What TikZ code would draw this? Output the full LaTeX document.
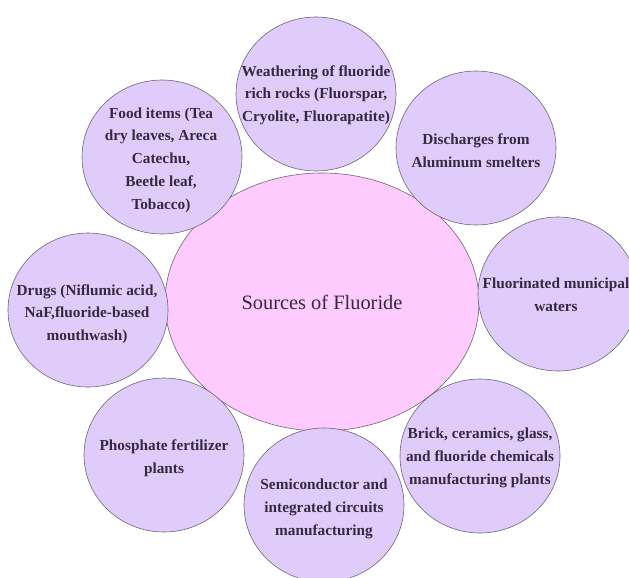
\documentclass[tikz,border=0pt]{standalone}
\usepackage{fontspec}
\setmainfont{Liberation Serif}
\usetikzlibrary{shapes.geometric}
\definecolor{satfill}{HTML}{E0CCFA}
\definecolor{hubfill}{HTML}{FDCBFD}
\definecolor{edgecol}{HTML}{6F6373}
\definecolor{txtcol}{HTML}{35293F}
\begin{document}
\begin{tikzpicture}[x=1pt,y=-1pt,
  sat/.style={ellipse, draw=edgecol, line width=0.6pt, fill=satfill, minimum width=160pt, minimum height=154pt, inner sep=0pt},
  hub/.style={ellipse, draw=edgecol, line width=0.6pt, fill=hubfill, minimum width=314pt, minimum height=258pt, inner sep=0pt},
  stxt/.style={align=center, text=txtcol, font=\fontsize{15.3}{22.7}\selectfont\bfseries, inner sep=0pt},
  htxt/.style={align=center, text=txtcol, font=\fontsize{20.4}{24}\selectfont, inner sep=0pt}]
\useasboundingbox (0,0) rectangle (629,578);
\begin{scope}
\clip (0,0) rectangle (629,578);
\node[hub] (hub) at (322,302) {};
\node[sat] (weather) at (316,94) {};
\node[sat] (alum) at (476,148) {};
\node[sat] (food) at (162,157) {};
\node[sat] (drugs) at (88,310) {};
\node[sat] (water) at (558,294) {};
\node[sat] (brick) at (480,456) {};
\node[sat] (semi) at (324,505) {};
\node[sat] (phos) at (164,455) {};
\end{scope}
\node[htxt] (hubt) at (hub) {Sources of Fluoride};
\node[stxt] (weathert) at (316,95) {Weathering of fluoride\\rich rocks (Fluorspar,\\Cryolite, Fluorapatite)};
\node[stxt] (alumt) at (476,151) {Discharges from\\Aluminum smelters};
\node[stxt] (foodt) at (161,160) {Food items (Tea\\dry leaves, Areca\\Catechu,\\Beetle leaf,\\Tobacco)};
\node[stxt] (drugst) at (87,314) {Drugs (Niflumic acid,\\NaF,fluoride-based\\mouthwash)};
\node[stxt] (watert) at (556,295) {Fluorinated municipal\\waters};
\node[stxt] (brickt) at (480,458) {Brick, ceramics, glass,\\and fluoride chemicals\\manufacturing plants};
\node[stxt] (semit) at (324,509) {Semiconductor and\\integrated circuits\\manufacturing};
\node[stxt] (phost) at (164,458) {Phosphate fertilizer\\plants};
\end{tikzpicture}
\end{document}
